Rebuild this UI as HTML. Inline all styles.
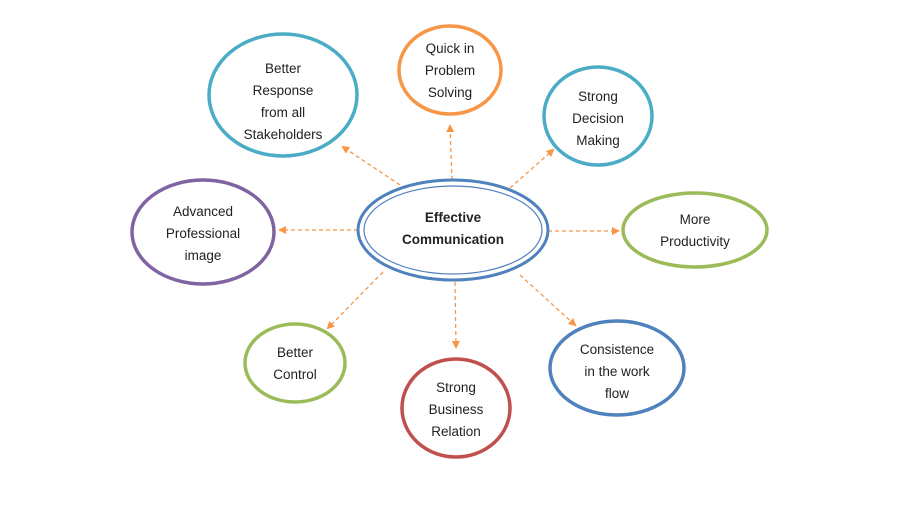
<!DOCTYPE html>
<html><head><meta charset="utf-8"><style>
html,body{margin:0;padding:0;background:#fff;}
svg text{font-family:"Liberation Sans",sans-serif;font-size:13.5px;fill:#222;text-anchor:middle;}
</style></head><body>
<svg width="900" height="500" viewBox="0 0 900 500" xmlns="http://www.w3.org/2000/svg">
<defs><marker id="a" markerWidth="8" markerHeight="8" refX="6" refY="4" orient="auto" markerUnits="userSpaceOnUse"><path d="M0,0 L8,4 L0,8 z" fill="#f79646"/></marker></defs>
<g stroke="#f79646" stroke-width="1.3" stroke-dasharray="4,3" marker-end="url(#a)">
<line x1="400" y1="185" x2="343" y2="147"/>
<line x1="452" y1="180" x2="450" y2="126"/>
<line x1="510" y1="188" x2="553" y2="150"/>
<line x1="358" y1="230" x2="280" y2="230"/>
<line x1="548" y1="231" x2="618" y2="231"/>
<line x1="383" y1="272" x2="328" y2="328"/>
<line x1="455" y1="282" x2="456" y2="347"/>
<line x1="520" y1="275" x2="575" y2="325"/>
</g>
<g fill="#fff" stroke-width="3.5">
<ellipse cx="453" cy="230" rx="95" ry="50" stroke="#4f81bd" stroke-width="3"/>
<ellipse cx="453" cy="230" rx="89" ry="44" stroke="#4f81bd" stroke-width="1.2"/>
<ellipse cx="283" cy="95" rx="74" ry="61" stroke="#4bacc6"/>
<ellipse cx="450" cy="70" rx="51" ry="44" stroke="#f79646"/>
<ellipse cx="598" cy="116" rx="54" ry="49" stroke="#4bacc6"/>
<ellipse cx="203" cy="232" rx="71" ry="52" stroke="#8064a2"/>
<ellipse cx="695" cy="230" rx="72" ry="37" stroke="#9bbb59"/>
<ellipse cx="295" cy="363" rx="50" ry="39" stroke="#9bbb59"/>
<ellipse cx="456" cy="408" rx="54" ry="49" stroke="#c0504d"/>
<ellipse cx="617" cy="368" rx="67" ry="47" stroke="#4f81bd"/>
</g>
<text x="453" y="222" font-weight="bold">Effective</text>
<text x="453" y="244" font-weight="bold">Communication</text>
<text x="283" y="73">Better</text><text x="283" y="95">Response</text><text x="283" y="117">from all</text><text x="283" y="139">Stakeholders</text>
<text x="450" y="53">Quick in</text><text x="450" y="75">Problem</text><text x="450" y="97">Solving</text>
<text x="598" y="101">Strong</text><text x="598" y="123">Decision</text><text x="598" y="145">Making</text>
<text x="203" y="216">Advanced</text><text x="203" y="238">Professional</text><text x="203" y="260">image</text>
<text x="695" y="224">More</text><text x="695" y="246">Productivity</text>
<text x="295" y="357">Better</text><text x="295" y="379">Control</text>
<text x="456" y="392">Strong</text><text x="456" y="414">Business</text><text x="456" y="436">Relation</text>
<text x="617" y="354">Consistence</text><text x="617" y="376">in the work</text><text x="617" y="398">flow</text>
</svg>
</body></html>
